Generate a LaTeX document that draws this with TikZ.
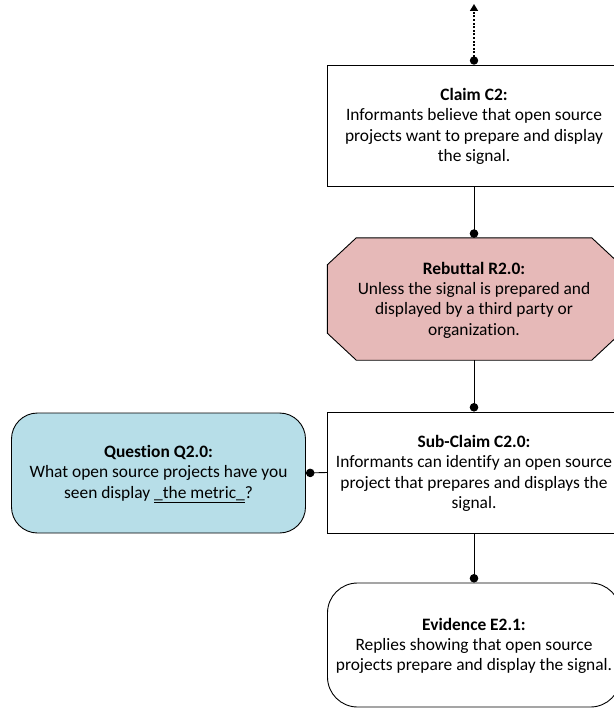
\documentclass[tikz,border=0pt]{standalone}
\usepackage{fontspec}
\setmainfont[Ligatures=NoCommon]{Carlito}
\usetikzlibrary{arrows.meta}
\definecolor{rebfill}{HTML}{E6B9B8}
\definecolor{qfill}{HTML}{B7DEE8}
\begin{document}
\begin{tikzpicture}[x=1pt,y=-1pt,
  txt/.style={font=\fontsize{17.4}{20.3}\selectfont, align=center, inner sep=0pt},
  box/.style={draw, line width=0.9pt, rectangle, inner sep=0pt},
  conn/.style={line width=0.9pt, -{Circle[length=8.5pt]}}]
\useasboundingbox (0,0) rectangle (613,711);
% Claim C2
\node[box, minimum width=293, minimum height=121, fill=white] (claim) at (474,125.5) {};
\node[txt] (claimt) at ([yshift=-1]claim.center) {\textbf{Claim C2:}\\Informants believe that open source\\projects want to prepare and display\\the signal.};
% Rebuttal octagon
\node[minimum width=293, minimum height=122, inner sep=0pt] (reb) at (474,299) {};
\draw[line width=0.9pt, fill=rebfill]
  ([xshift=29]reb.north west) -- ([xshift=-29]reb.north east) -- ([yshift=-27]reb.north east)
  -- ([yshift=27]reb.south east) -- ([xshift=-29]reb.south east) -- ([xshift=29]reb.south west)
  -- ([yshift=27]reb.south west) -- ([yshift=-27]reb.north west) -- cycle;
\node[txt] (rebt) at ([yshift=-1]reb.center) {\textbf{Rebuttal R2.0:}\\Unless the signal is prepared and\\displayed by a third party or\\organization.};
% Sub-claim
\node[box, minimum width=293, minimum height=121, fill=white] (sub) at (474,472.5) {};
\node[txt] (subt) at ([yshift=-1]sub.center) {\textbf{Sub-Claim C2.0:}\\Informants can identify an open source\\project that prepares and displays the\\signal.};
% Question
\node[box, rounded corners=26pt, minimum width=294, minimum height=120, fill=qfill] (q) at (158.5,473) {};
\node[txt] (qt) at ([yshift=-1]q.center) {\textbf{Question Q2.0:}\\What open source projects have you\\seen display \underline{\_the metric\_}?};
% Evidence
\node[box, rounded corners=30pt, minimum width=293, minimum height=124, fill=white] (ev) at (474,645) {};
\node[txt] (evt) at ([yshift=-1]ev.center) {\textbf{Evidence E2.1:}\\Replies showing that open source\\projects prepare and display the signal.};
% top arrow
\coordinate (top) at (474,4);
\coordinate (topdot) at ([yshift=4]claim.north);
\fill (topdot) circle (4.2pt);
\draw[line width=1.6pt, dash pattern=on 2pt off 1.6pt, -{Triangle[length=7pt,width=8pt]}] (topdot) -- (top);
% connectors
\draw[conn] (claim.south) -- (reb.north);
\draw[conn] (reb.south) -- (sub.north);
\draw[conn] (sub.south) -- (ev.north);
\draw[conn] (sub.west) -- (q.east);
\end{tikzpicture}
\end{document}
